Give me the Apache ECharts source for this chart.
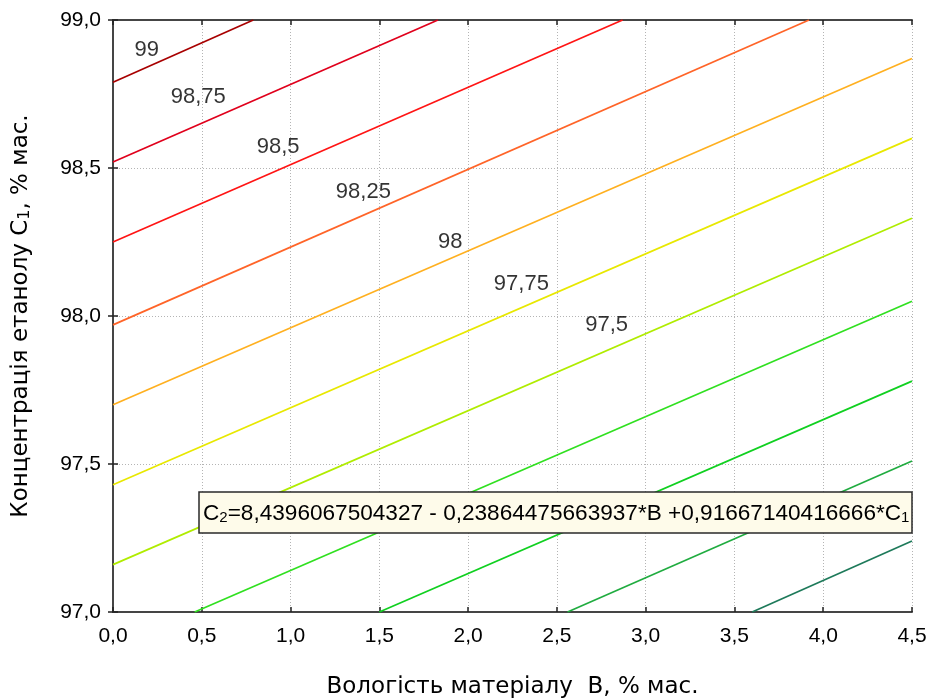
<!DOCTYPE html>
<html>
<head>
<meta charset="utf-8">
<script src="https://cdn.jsdelivr.net/npm/echarts@6/dist/echarts.min.js"></script>
<style>
html,body{margin:0;padding:0;background:#fff;}
#chart{width:930px;height:698px;}
</style>
</head>
<body>
<div id="chart"></div>
<script>
// Contour levels of C2 and the endpoints of each contour line [B, C1]
const levels = [99, 98.75, 98.5, 98.25, 98, 97.75, 97.5, 97.25, 97, 96.75, 96.5];
const levelColors = ['#A80000', '#E0001C', '#FF1414', '#FF6428', '#FFB020', '#E8E800', '#B0EC00', '#30E020', '#10D020', '#20AC40', '#1E7A5A'];
const lineStart = [[0, 98.79], [0, 98.52], [0, 98.25], [0, 97.97], [0, 97.70], [0, 97.43], [0, 97.16], [0.46, 97.0], [1.50, 97.0], [2.56, 97.0], [3.60, 97.0]];
const lineEnd = [[0.79, 99.0], [1.83, 99.0], [2.87, 99.0], [3.92, 99.0], [4.5, 98.87], [4.5, 98.60], [4.5, 98.33], [4.5, 98.05], [4.5, 97.78], [4.5, 97.51], [4.5, 97.24]];
// contour label texts and where they sit [B, C1]
const labelTexts = ['99', '98,75', '98,5', '98,25', '98', '97,75', '97,5'];
const labelPos = [[0.19, 98.90], [0.48, 98.74], [0.93, 98.57], [1.41, 98.42], [1.90, 98.25], [2.30, 98.11], [2.78, 97.97]];
// axes
const xMin = 0, xMax = 4.5, xStep = 0.5;
const yMin = 97, yMax = 99, yStep = 0.5;
const xTitle = 'Вологість матеріалу  B, % мас.';
const yTitleParts = ['Концентрація етанолу C', '1', ', % мас.'];
const equationParts = ['C', '2', '=8,4396067504327 - 0,23864475663937*B +0,91667140416666*C', '1'];

const FONT = '"Liberation Sans", Arial, sans-serif';
const TFONT = '"DejaVu Sans", Verdana, sans-serif';
const fmt = v => v.toFixed(1).replace('.', ',');

const series = levels.map((lv, i) => ({
  type: 'line',
  name: String(lv),
  data: [lineStart[i], lineEnd[i]],
  showSymbol: false,
  silent: true,
  lineStyle: { color: levelColors[i], width: 1.7 },
  z: 3
}));
series.push({
  type: 'scatter',
  data: labelPos.map((p, i) => ({ value: p, name: labelTexts[i] })),
  symbolSize: 1,
  itemStyle: { color: 'rgba(0,0,0,0)' },
  silent: true,
  label: {
    show: true, position: 'inside', formatter: p => p.name,
    color: '#000', fontSize: 22, fontFamily: FONT
  },
  z: 4
});

const axisLine = { show: true, lineStyle: { color: '#454545', width: 2 } };
const axisTick = { show: true, inside: true, length: 5, lineStyle: { color: '#222', width: 1.5 } };
const splitLine = { show: true, lineStyle: { color: '#b4b4b4', width: 1, type: [1, 2] } };

const chart = echarts.init(document.getElementById('chart'), null, { renderer: 'canvas' });
chart.setOption({
  animation: false,
  backgroundColor: '#fff',
  grid: { left: 113, right: 18, top: 20, bottom: 86, containLabel: false, outerBoundsMode: 'none' },
  xAxis: [{
    type: 'value', min: xMin, max: xMax, interval: xStep, position: 'bottom',
    axisLine, axisTick, splitLine,
    axisLabel: { formatter: fmt, color: '#000', fontSize: 21, fontFamily: FONT, margin: 14 },
    name: xTitle, nameLocation: 'middle', nameGap: 64,
    nameTextStyle: { color: '#000', fontSize: 23, fontFamily: TFONT }
  }, {
    type: 'value', min: xMin, max: xMax, interval: xStep, position: 'top',
    axisLine, axisTick, splitLine: { show: false }, axisLabel: { show: false }
  }],
  yAxis: [{
    type: 'value', min: yMin, max: yMax, interval: yStep, position: 'left',
    axisLine, axisTick, splitLine,
    axisLabel: { formatter: fmt, color: '#000', fontSize: 21, fontFamily: FONT, margin: 12 },
    name: '{n|' + yTitleParts[0] + '}{s|' + yTitleParts[1] + '}{n|' + yTitleParts[2] + '}',
    nameLocation: 'middle', nameGap: 80, nameRotate: 90,
    nameTextStyle: {
      color: '#000', fontSize: 23, fontFamily: TFONT,
      rich: {
        n: { fontSize: 23, fontFamily: TFONT, color: '#000', lineHeight: 27, verticalAlign: 'bottom' },
        s: { fontSize: 16, fontFamily: TFONT, color: '#000', lineHeight: 16, verticalAlign: 'bottom' }
      }
    }
  }, {
    type: 'value', min: yMin, max: yMax, interval: yStep, position: 'right',
    axisLine, axisTick, splitLine: { show: false }, axisLabel: { show: false }
  }],
  series,
  graphic: [{
    type: 'rect',
    shape: { x: 199, y: 492, width: 713, height: 41 },
    style: { fill: '#FEFBEA', stroke: '#2a2a2a', lineWidth: 1.5 },
    z: 10
  }, {
    type: 'text',
    x: 203, y: 512,
    style: {
      text: '{n|' + equationParts[0] + '}{s|' + equationParts[1] + '}{n|' + equationParts[2] + '}{s|' + equationParts[3] + '}',
      verticalAlign: 'middle', align: 'left',
      rich: {
        n: { fontSize: 22.6, fontFamily: FONT, fill: '#000', lineHeight: 26, verticalAlign: 'bottom' },
        s: { fontSize: 15, fontFamily: FONT, fill: '#000', lineHeight: 15, verticalAlign: 'bottom' }
      }
    },
    z: 11
  }]
});
</script>
</body>
</html>
